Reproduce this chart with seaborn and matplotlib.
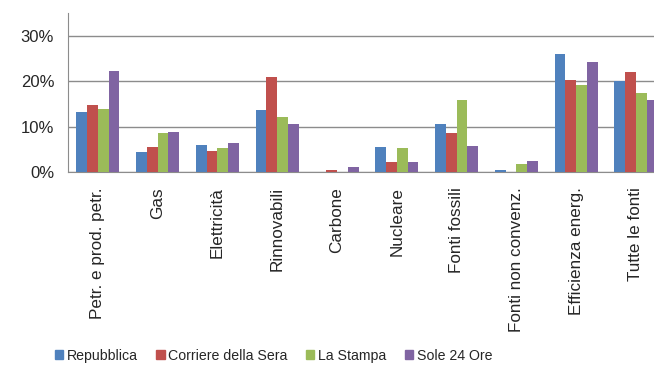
import pandas as pd
import matplotlib
matplotlib.use("Agg")
import matplotlib.pyplot as plt
import seaborn as sns
from matplotlib.ticker import FuncFormatter

# categories and series (percent of articles per source)
categories = ["Petr. e prod. petr.", "Gas", "Elettricità", "Rinnovabili", "Carbone",
              "Nucleare", "Fonti fossili", "Fonti non convenz.", "Efficienza energ.", "Tutte le fonti"]
papers = ["Repubblica", "Corriere della Sera", "La Stampa", "Sole 24 Ore"]
repubblica = [13.2, 4.4, 6.0, 13.8, 0.0, 5.5, 10.5, 0.5, 26.1, 20.0]
corriere = [14.8, 5.5, 4.6, 20.9, 0.4, 2.3, 8.7, 0.0, 20.4, 22.2]
stampa = [14.0, 8.7, 5.3, 12.2, 0.0, 5.3, 15.8, 1.7, 19.3, 17.5]
sole = [22.4, 8.8, 6.3, 10.6, 1.0, 2.3, 5.7, 2.4, 24.3, 15.9]
colors = ["#4F81BD", "#C0504D", "#9BBB59", "#8064A2"]

rows = []
for paper, vals in zip(papers, [repubblica, corriere, stampa, sole]):
    for cat, v in zip(categories, vals):
        rows.append({"categoria": cat, "testata": paper, "quota": v})
df = pd.DataFrame(rows)

sns.set_style("white")
plt.rcParams["font.family"] = ["Liberation Sans", "DejaVu Sans"]

fig = plt.figure(figsize=(6.54, 3.65), dpi=100)
ax = fig.add_axes([0.104, 0.529, 0.914, 0.436])

sns.barplot(data=df, x="categoria", y="quota", hue="testata", hue_order=papers,
            order=categories, palette=colors, saturation=1, width=0.72,
            linewidth=0, legend=False, ax=ax, zorder=3)

ax.set_xlim(-0.5, len(categories) - 0.5)
ax.set_ylim(0, 35.2)
ax.set_yticks([0, 10, 20, 30])
ax.yaxis.set_major_formatter(FuncFormatter(lambda v, p: f"{v:.0f}%"))
ax.grid(axis="y", color="#8c8c8c", lw=1, zorder=0)
ax.set_axisbelow(True)

for s in ["top", "right"]:
    ax.spines[s].set_visible(False)
ax.spines["left"].set_color("#8c8c8c")
ax.spines["bottom"].set_color("#8c8c8c")

ax.set_xlabel("")
ax.set_ylabel("")
ax.set_xticks(range(len(categories)))
ax.set_xticklabels(categories, rotation=90, fontsize=12.3)
ax.set_xticks([i - 0.5 for i in range(len(categories) + 1)], minor=True)
ax.tick_params(axis="x", which="major", length=0, pad=11)
ax.tick_params(axis="x", which="minor", length=5, color="#8c8c8c", direction="out")
ax.tick_params(axis="y", length=5, color="#8c8c8c", direction="out", labelsize=12, pad=5)

handles = [plt.Rectangle((0, 0), 1, 1, color=c) for c in colors]
fig.legend(handles, papers, loc="center", bbox_to_anchor=(0.418, 0.025), ncol=4,
           frameon=False, fontsize=10.2, handlelength=0.6, handleheight=0.6,
           handletextpad=0.25, columnspacing=1.3)

fig.savefig("out.png", dpi=100)
